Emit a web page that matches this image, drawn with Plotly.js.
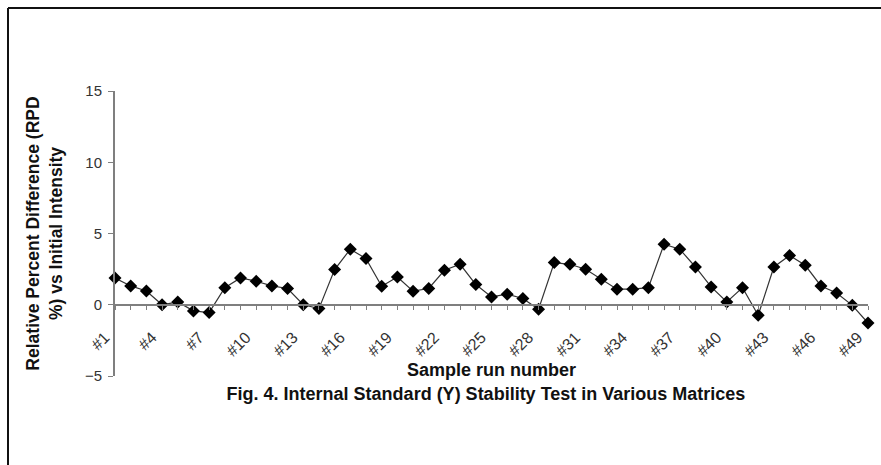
<!DOCTYPE html>
<html>
<head>
<meta charset="utf-8">
<script src="https://cdn.plot.ly/plotly-3.0.1.min.js"></script>
<style>html,body{margin:0;padding:0;background:#fff;}#chart{width:881px;height:465px;}</style>
</head>
<body>
<div id="chart"></div>
<script>
const categories = ["#1","#2","#3","#4","#5","#6","#7","#8","#9","#10",
  "#11","#12","#13","#14","#15","#16","#17","#18","#19","#20",
  "#21","#22","#23","#24","#25","#26","#27","#28","#29","#30",
  "#31","#32","#33","#34","#35","#36","#37","#38","#39","#40",
  "#41","#42","#43","#44","#45","#46","#47","#48","#49"];
const rpdValues = [1.88,1.32,0.97,0.0,0.2,-0.43,-0.55,1.2,1.88,1.65,
  1.32,1.14,0.0,-0.27,2.47,3.9,3.24,1.3,1.95,0.95,
  1.14,2.42,2.84,1.42,0.55,0.74,0.44,-0.32,2.96,2.84,
  2.49,1.79,1.09,1.09,1.2,4.25,3.9,2.65,1.25,0.2,
  1.2,-0.74,2.65,3.45,2.77,1.32,0.83,-0.04,-1.28];
const labeledTicks = ["#1","#4","#7","#10","#13","#16","#19","#22","#25","#28",
  "#31","#34","#37","#40","#43","#46","#49"];
const yTickVals = [-5,0,5,10,15];

const W = 881, H = 465;
const L = 115, R = 13, T = 91, B = 89;
const pw = W - L - R, ph = H - T - B;
const px = v => (v - L) / pw;
const py = v => (H - B - v) / ph;

const trace = {
  type: 'scatter', mode: 'lines+markers',
  x: categories, y: rpdValues,
  line: {color: '#333333', width: 1.2},
  marker: {symbol: 'diamond', size: 10, color: '#000000'},
  cliponaxis: false, showlegend: false
};

const layout = {
  width: W, height: H,
  margin: {l: L, r: R, t: T, b: B},
  paper_bgcolor: '#ffffff', plot_bgcolor: '#ffffff',
  font: {family: '"Liberation Sans", Arial, sans-serif', color: '#222222'},
  title: {
    text: 'Fig. 4. Internal Standard (Y) Stability Test in Various Matrices',
    font: {size: 18, color: '#111111', weight: 'bold'},
    xref: 'paper', x: px(486), xanchor: 'center',
    yref: 'container', y: 1 - 394 / H, yanchor: 'middle'
  },
  xaxis: {
    type: 'category',
    categoryorder: 'array', categoryarray: categories,
    range: [0, categories.length - 1], autorange: false,
    anchor: 'free', position: 5 / 20,
    showline: true, linecolor: '#7f7f7f', linewidth: 2,
    ticks: 'outside', ticklen: 4, tickcolor: '#7f7f7f', tickwidth: 1,
    tickmode: 'array', tickvals: categories,
    ticktext: categories.map(c => labeledTicks.includes(c) ? c : ''),
    tickangle: -45, tickfont: {size: 16, color: '#333333'},
    ticklabelstandoff: 12, ticklabelshift: -10,
    showgrid: false, zeroline: false,
    title: {text: 'Sample run number', font: {size: 18, color: '#111111', weight: 'bold'}, standoff: 3}
  },
  yaxis: {
    range: [-5, 15], autorange: false,
    tickmode: 'array', tickvals: yTickVals,
    showline: true, linecolor: '#7f7f7f', linewidth: 2,
    ticks: 'outside', ticklen: 5, tickcolor: '#7f7f7f', tickwidth: 1,
    tickfont: {size: 15, color: '#333333'}, ticklabelstandoff: 3,
    showgrid: false, zeroline: false,
    title: {text: 'Relative Percent Difference (RPD<br>%) vs Initial Intensity',
      font: {size: 17.5, color: '#111111', weight: 'bold'}, standoff: 18}
  },
  shapes: [
    {type: 'line', xref: 'paper', yref: 'paper', x0: px(8), x1: px(W + 2), y0: py(8), y1: py(8),
     line: {color: '#111111', width: 2}},
    {type: 'line', xref: 'paper', yref: 'paper', x0: px(8), x1: px(8), y0: py(8), y1: py(H + 2),
     line: {color: '#111111', width: 2}}
  ]
};

Plotly.newPlot('chart', [trace], layout, {displayModeBar: false, staticPlot: true});
</script>
</body>
</html>
